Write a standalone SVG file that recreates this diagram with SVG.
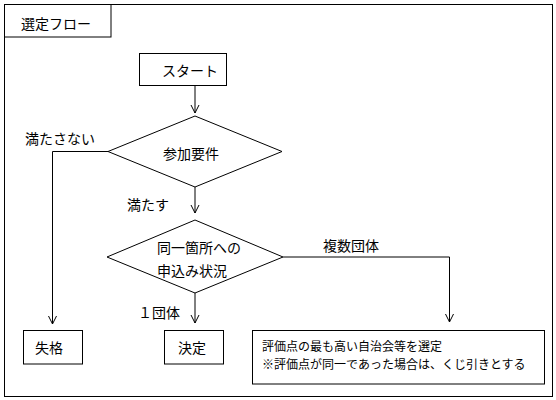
<svg xmlns="http://www.w3.org/2000/svg" width="556" height="400" viewBox="0 0 556 400">
<style>
.s{fill:#fff;stroke:#000;stroke-width:1}
.c{fill:none;stroke:#000;stroke-width:1}
text{font-family:"Noto Sans CJK JP","Noto Sans CJK SC",sans-serif;font-size:14px;fill:#000;dominant-baseline:central}
.sm{font-size:12px}
</style>
<defs>
<marker id="ah" markerWidth="10" markerHeight="10" refX="8" refY="5" orient="auto" markerUnits="userSpaceOnUse">
<polyline points="0,1 8,5 0,9" fill="none" stroke="#000" stroke-width="1"/>
</marker>
</defs>
<rect width="556" height="400" fill="#fff"/>
<g id="frame">
<rect class="s" x="4.5" y="4.5" width="548" height="392"/>
<rect class="s" x="4.5" y="4.5" width="106.5" height="32.5"/>
<text x="21" y="22.5">選定フロー</text>
</g>
<g id="connectors">
<line class="c" x1="195" y1="85.5" x2="195" y2="113" marker-end="url(#ah)"/>
<line class="c" x1="195" y1="187" x2="195" y2="213" marker-end="url(#ah)"/>
<polyline class="c" points="108,151.5 52.5,151.5 52.5,324" marker-end="url(#ah)"/>
<line class="c" x1="195" y1="293" x2="195" y2="323" marker-end="url(#ah)"/>
<polyline class="c" points="283,257 449.5,257 449.5,322" marker-end="url(#ah)"/>
<text x="25" y="137.5">満たさない</text>
<text x="127" y="204">満たす</text>
<text x="323" y="244.5">複数団体</text>
<text x="138" y="312">１団体</text>
</g>
<g id="start">
<rect class="s" x="139.5" y="53.5" width="87" height="32"/>
<text x="162" y="70">スタート</text>
</g>
<g id="cond1">
<polygon class="s" points="195,116 282,151.5 195,187 108,151.5"/>
<text x="163" y="153">参加要件</text>
</g>
<g id="cond2">
<polygon class="s" points="195,220 283,257 195,293 107,257"/>
<text x="157" y="246.5">同一箇所への</text>
<text x="157" y="270">申込み状況</text>
</g>
<g id="fail">
<rect class="s" x="23.5" y="330.5" width="59" height="33.5"/>
<text x="35" y="347">失格</text>
</g>
<g id="decide">
<rect class="s" x="164.5" y="330.5" width="59" height="33.5"/>
<text x="178" y="347">決定</text>
</g>
<g id="select">
<rect class="s" x="252.5" y="330.5" width="292" height="53.5"/>
<text class="sm" x="262" y="345.5">評価点の最も高い自治会等を選定</text>
<text class="sm" x="262" y="363">※評価点が同一であった場合は、くじ引きとする</text>
</g>
</svg>
